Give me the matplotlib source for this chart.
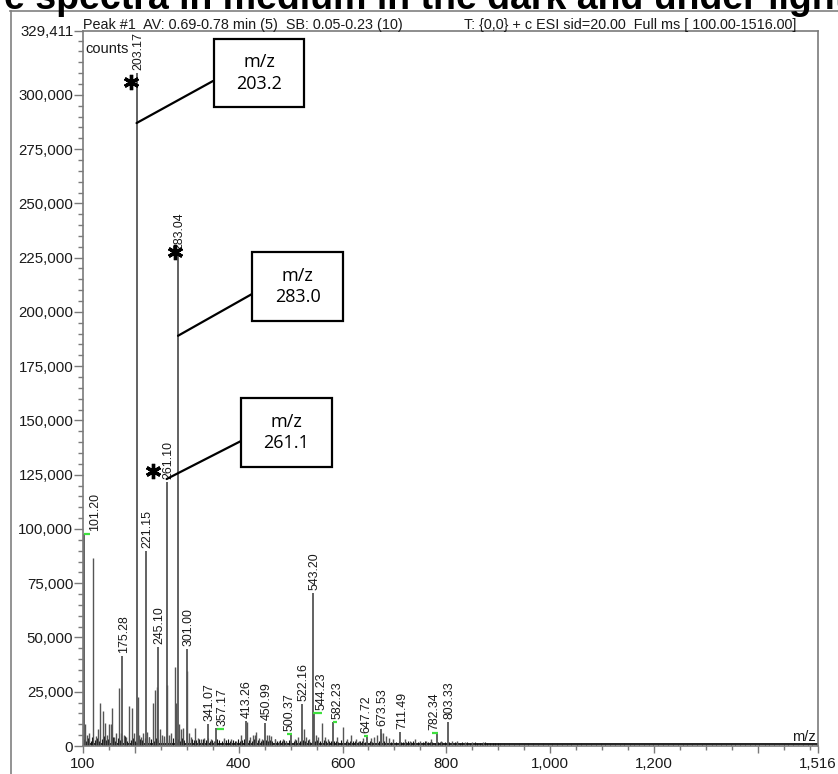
import matplotlib
matplotlib.use("Agg")
import matplotlib.pyplot as plt
from matplotlib.patches import Rectangle
from matplotlib.lines import Line2D
from matplotlib.ticker import FixedLocator, FixedFormatter

W, H, DPI = 838, 774, 100
PT = 72.0 / DPI  # points per pixel

# ------------------------------------------------------------------ data
title_text = "e spectra in medium in the dark and under light"
header_left = "Peak #1  AV: 0.69-0.78 min (5)  SB: 0.05-0.23 (10)"
header_right = "T: {0,0} + c ESI sid=20.00  Full ms [ 100.00-1516.00]"

x_min, x_max = 100, 1516
y_max = 329411

# labelled peaks
major_mz = [101.20, 175.28, 203.17, 221.15, 245.10, 261.10, 283.04, 301.00,
            341.07, 357.17, 413.26, 450.99, 500.37, 522.16, 543.20, 544.23,
            582.23, 647.72, 673.53, 711.49, 782.34, 803.33]
major_int = [97700, 41600, 310000, 90000, 45800, 121700, 227000, 44500,
             10100, 8300, 11500, 10600, 5400, 19400, 70700, 15100,
             10900, 4600, 7800, 6600, 5800, 11000]

# peak labels (text, centre m/z of the text, height of its foot)
lbl_text = ['101.20', '175.28', '203.17', '221.15', '245.10', '261.10', '283.04',
            '301.00', '341.07', '357.17', '413.26', '450.99', '500.37', '522.16',
            '543.20', '544.23', '582.23', '647.72', '673.53', '711.49', '782.34',
            '803.33']
lbl_mz = [123.1, 178.5, 206.5, 224.0, 248.0, 264.0, 286.0, 304.0, 344.0, 368.7,
          416.0, 454.0, 497.5, 525.0, 546.5, 560.4, 590.3, 645.2, 676.5, 714.5,
          776.2, 806.5]
lbl_h = [97700, 41600, 310000, 90000, 45800, 121700, 227000, 44500, 10100, 7800,
         11500, 10600, 5400, 19400, 70700, 15100, 10900, 4600, 7800, 6600, 5800,
         11000]

# green label leaders
grn_x0 = [101.9, 357.6, 492.5, 543.2, 581.7, 641.4, 772.4]
grn_x1 = [113.5, 371.7, 502.1, 559.9, 589.4, 649.1, 783.4]
grn_h = [97700, 7800, 5400, 15100, 10900, 4600, 5800]

# unlabelled peaks
minor_mz = [104, 107, 112, 119, 125, 128, 133, 139, 142, 146,
            151, 154, 156.5, 160, 164, 170, 173, 179, 183, 189,
            194, 198, 205, 208, 212, 216, 224, 228, 235.5, 238.7,
            242, 249, 252, 256, 262.5, 266, 270, 277, 280, 285,
            288, 292, 299.5, 304, 309, 316, 322, 328, 334, 346,
            352, 372, 385, 395, 405, 416, 422, 427, 431, 434,
            440, 445, 455, 458, 462, 470, 478, 485, 492, 508,
            515, 525, 530, 536, 548, 552, 559.5, 566, 572, 590,
            601.5, 608, 617, 625, 632, 640, 655, 660, 666, 675,
            678, 683, 690, 697, 720, 730, 740, 750, 760, 770,
            790, 810, 820, 835, 850, 870]
minor_int = [10100, 5000, 6000, 86600, 4500, 8000, 20000, 16300, 10600, 5000,
             10100, 10100, 17500, 4000, 6000, 26900, 6000, 5000, 4000, 18600,
             17700, 6000, 22600, 5000, 4000, 6000, 6600, 4000, 20000, 25800,
             27300, 8000, 5000, 4500, 28100, 5000, 6000, 36500, 20000, 10000,
             8000, 8300, 34700, 6000, 4000, 8400, 3700, 3000, 3500, 3000,
             2500, 3500, 3000, 2500, 5000, 11000, 4000, 5000, 5000, 6600,
             3500, 3000, 5000, 5000, 4500, 3000, 2500, 3000, 2500, 3000,
             4000, 8000, 4000, 3000, 5000, 4000, 10700, 4000, 3000, 4000,
             8900, 3000, 5000, 3000, 2500, 3500, 3500, 4000, 5000, 6200,
             6000, 4500, 3500, 3000, 3000, 2500, 3000, 2500, 2500, 3000,
             2500, 2500, 2500, 2000, 2000, 2000]

# baseline noise, low mass range
noise_mz_lo = [101, 106, 110, 115, 118, 123, 127, 131, 136, 141,
               145, 149, 153, 158, 162, 167, 171, 176, 180, 185,
               188, 192, 196, 200, 206, 210, 214, 219, 223, 227,
               231, 236, 240, 244, 248, 253, 257, 261, 265, 269,
               273, 279, 283, 287, 291, 295, 301, 305, 310, 314,
               318, 323, 327, 331, 336, 340, 344, 349, 354, 358,
               362, 367, 371, 376, 380, 384, 389, 393, 398, 402,
               407, 411, 416, 420, 425, 429, 433, 438, 443, 447,
               452, 456, 461, 465, 470, 474, 479, 483, 488, 492,
               497, 501, 506, 510, 515, 519, 524, 528, 533, 537,
               542, 547, 551, 556, 560, 565, 569, 574, 578, 583,
               588, 592, 597, 601, 606, 611, 615, 620, 624, 629,
               634, 638, 643, 647, 652, 657, 661, 666, 671, 675,
               680, 684, 689, 694, 698, 703, 708, 712, 717, 722,
               726, 731, 736, 740, 745, 750, 755, 759, 764, 769,
               773, 778, 783, 788, 792, 797, 802, 806, 811, 816,
               821, 826, 830, 835, 840, 845, 850, 855, 860, 864,
               869, 874, 879, 884, 889, 894, 899]
noise_int_lo = [3000, 2500, 3800, 2200, 4200, 2800, 3500, 2400, 3100, 4500,
                2600, 3300, 2900, 4000, 2300, 3600, 2700, 3200, 4800, 2500,
                3400, 2900, 3700, 2200, 3900, 3100, 2600, 3500, 2800, 4100,
                3000, 2400, 3600, 2900, 3300, 2500, 3800, 2700, 3100, 2400,
                3500, 2800, 3200, 2300, 3700, 2600, 3000, 2500, 3400, 2900,
                2700, 3300, 2400, 3100, 2600, 3500, 2300, 2900, 2500, 3200,
                2800, 2400, 3000, 2600, 3300, 2200, 2900, 2500, 3100, 2400,
                2700, 3200, 2300, 2800, 2500, 3000, 2200, 2700, 2400, 2900,
                2600, 2300, 2800, 2100, 3000, 2400, 2700, 2200, 2600, 2300,
                2900, 2500, 2200, 2700, 2400, 2100, 2800, 2300, 2600, 2000,
                2500, 2200, 2700, 2400, 2000, 2600, 2300, 2100, 2500, 2200,
                2400, 2000, 2600, 2200, 2300, 1900, 2500, 2100, 2300, 2000,
                2200, 2400, 1900, 2300, 2100, 1800, 2200, 2000, 2400, 1900,
                2100, 2300, 1800, 2000, 2200, 1900, 2100, 1700, 2000, 1800,
                2200, 1900, 2100, 1700, 2000, 1800, 1900, 2100, 1700, 1800,
                2000, 1600, 1900, 1800, 1700, 2000, 1600, 1800, 1500, 1900,
                1700, 1600, 1800, 1500, 1700, 1600, 1400, 1800, 1500, 1600,
                1500, 1700, 1400, 1600, 1300, 1500, 1600]

# baseline noise, high mass range
noise_mz_hi = [903, 912, 921, 930, 940, 949, 958, 967, 977, 986,
               995, 1004, 1014, 1023, 1032, 1041, 1051, 1060, 1069, 1079,
               1088, 1097, 1106, 1116, 1125, 1134, 1143, 1153, 1162, 1171,
               1181, 1190, 1199, 1208, 1218, 1227, 1236, 1246, 1255, 1264,
               1273, 1283, 1292, 1301, 1311, 1320, 1329, 1338, 1348, 1357,
               1366, 1376, 1385, 1394, 1403, 1413, 1422, 1431, 1441, 1450,
               1459, 1468, 1478, 1487, 1496, 1505, 1513]
noise_int_hi = [1400, 1200, 1500, 1100, 1300, 1000, 1400, 1200, 1100, 1300,
                1000, 1200, 1400, 1100, 900, 1200, 1000, 1300, 900, 1100,
                1000, 1200, 900, 1100, 800, 1000, 1200, 900, 1000, 800,
                1100, 900, 1000, 800, 900, 1100, 800, 1000, 900, 700,
                1000, 800, 900, 700, 1000, 800, 900, 700, 800, 1000,
                700, 900, 800, 700, 900, 800, 700, 900, 600, 800,
                700, 900, 600, 800, 700, 800, 600]
baseline_level = 700

# asterisks
star_mz = [192.5, 277.2, 234.9]
star_int = [306000, 227600, 126700]

# call-out boxes
callout_text = ['m/z\n203.2', 'm/z\n283.0', 'm/z\n261.1']
callout_mz = [203.17, 283.04, 261.10]
callout_int = [287000, 189000, 123000]

# axis ticks
y_major = [0, 25000, 50000, 75000, 100000, 125000, 150000, 175000, 200000,
           225000, 250000, 275000, 300000, 329411]
y_minor_step = 5000
x_major = [100, 200, 400, 600, 800, 1000, 1200, 1400, 1516]
x_major_labels = ['100', '', '400', '600', '800', '1,000', '1,200', '', '1,516']
x_minor_step = 50

# ------------------------------------------------------------------ figure
plt.rcParams['font.family'] = ['Liberation Sans', 'DejaVu Sans']
fig = plt.figure(figsize=(W / DPI, H / DPI), dpi=DPI)
fig.patch.set_facecolor('white')

L, R, T, B = 83, 818, 31, 746
ax = fig.add_axes([L / W, 1 - B / H, (R - L) / W, (B - T) / H])
ax.set_xlim(x_min, x_max)
ax.set_ylim(0, y_max)

# noise and peaks
n_lo = min(len(noise_mz_lo), len(noise_int_lo))
n_hi = min(len(noise_mz_hi), len(noise_int_hi))
ax.vlines(noise_mz_lo[:n_lo], 0, noise_int_lo[:n_lo], colors='#111111', lw=0.8)
ax.vlines(noise_mz_hi[:n_hi], 0, noise_int_hi[:n_hi], colors='#222222', lw=0.6)
ax.axhline(baseline_level, color='#111111', lw=1.3, zorder=1)
ax.vlines(minor_mz, 0, minor_int, colors='#555555', lw=1.0)
ax.vlines(major_mz, 0, major_int, colors='#555555', lw=1.3)

# green leaders
for a, b, h in zip(grn_x0, grn_x1, grn_h):
    ax.plot([a, b], [h, h], color='#3ee03e', lw=1.6, solid_capstyle='butt', zorder=4)

# labels
for t, m, h in zip(lbl_text, lbl_mz, lbl_h):
    ax.annotate(t, xy=(m, h), xytext=(0, 3 * PT), textcoords='offset points',
                rotation=90, ha='center', va='bottom', fontsize=8.9,
                color='#1a1a1a', zorder=5)

# asterisks
ax.plot(star_mz, star_int, linestyle='none', marker=(6, 2, 0), markersize=11,
        markeredgewidth=2.4, color='black', zorder=6)

# call-out boxes (figure pixel layout, top-left origin)
box_px = [(214, 39, 304, 107), (252, 252, 343, 321), (241, 398, 332, 467)]
anchor_px = [(213, 81), (252, 294), (241, 441)]
for txt, m, h, (x0, y0, x1, y1), (ax_, ay_) in zip(callout_text, callout_mz, callout_int, box_px, anchor_px):
    rect = Rectangle((x0, H - y1), x1 - x0, y1 - y0, transform=None,
                     facecolor='white', edgecolor='black', lw=1.6, zorder=7)
    fig.add_artist(rect)
    fig.text((x0 + x1) / 2 / W, 1 - (y0 + y1) / 2 / H, txt, ha='center', va='center',
             fontsize=13, family=['Open Sans', 'DejaVu Sans'], linespacing=1.25,
             color='black', zorder=8)
    ax.annotate('', xy=(m, h), xycoords='data', xytext=(ax_, H - ay_),
                textcoords='figure pixels',
                arrowprops=dict(arrowstyle='-', lw=1.6, color='black',
                                shrinkA=0, shrinkB=0), zorder=7)

# axes styling
spine_col = '#7a7a7a'
for s in ax.spines.values():
    s.set_color(spine_col)
    s.set_linewidth(1.2)

ax.yaxis.set_major_locator(FixedLocator(y_major))
ax.yaxis.set_major_formatter(FixedFormatter([f"{v:,}" for v in y_major]))
ax.yaxis.set_minor_locator(FixedLocator(
    [v for v in range(0, 329411, y_minor_step) if v not in y_major]))
ax.xaxis.set_major_locator(FixedLocator(x_major))
ax.xaxis.set_major_formatter(FixedFormatter(x_major_labels))
ax.xaxis.set_minor_locator(FixedLocator(
    [v for v in range(150, 1516, x_minor_step) if v not in x_major]))

ax.tick_params(axis='y', which='major', direction='out', length=9 * PT, width=1.0,
               color=spine_col, pad=0.5, labelsize=10.8, labelcolor='#1a1a1a')
ax.tick_params(axis='y', which='minor', direction='out', length=5 * PT, width=1.0,
               color=spine_col)
ax.tick_params(axis='x', which='major', direction='out', length=7 * PT, width=1.0,
               color=spine_col, pad=3, labelsize=10.8, labelcolor='#1a1a1a')
ax.tick_params(axis='x', which='minor', direction='out', length=3.5 * PT, width=1.0,
               color=spine_col)

# texts
ax.text(0.003, 0.985, 'counts', transform=ax.transAxes, ha='left', va='top',
        fontsize=10.5, color='#1a1a1a')
ax.text(0.997, 0.003, 'm/z', transform=ax.transAxes, ha='right', va='bottom',
        fontsize=10.5, color='#1a1a1a')
fig.text(L / W, 1 - 28.5 / H, header_left, ha='left', va='baseline', fontsize=10.4,
         color='#1a1a1a')
fig.text(464 / W, 1 - 28.5 / H, header_right, ha='left', va='baseline', fontsize=10.4,
         color='#1a1a1a')

# partial title at the top, cut by the edge
fig.text(4 / W, 1 - 9 / H, title_text, ha='left', va='baseline', fontsize=27,
         fontweight='bold', color='black')

# outer frame
fig.add_artist(Line2D([10.5 / W, 10.5 / W], [0, 1 - 11 / H], transform=fig.transFigure,
                      color='#808080', lw=1.2))
fig.add_artist(Line2D([10 / W, 1], [1 - 11 / H, 1 - 11 / H], transform=fig.transFigure,
                      color='#808080', lw=1.2))

fig.savefig('out.png', dpi=DPI)
